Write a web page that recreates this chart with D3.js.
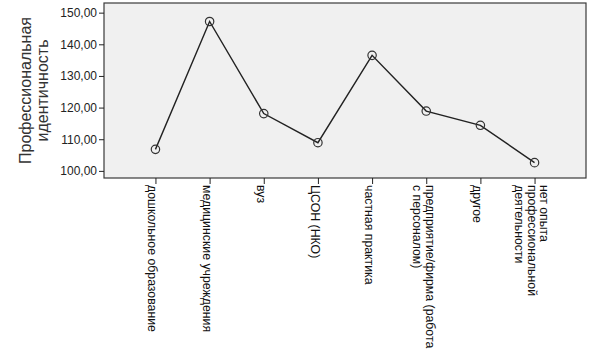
<!DOCTYPE html>
<html>
<head>
<meta charset="utf-8">
<script src="https://cdn.jsdelivr.net/npm/d3@7"></script>
<style>
  html, body { margin: 0; padding: 0; background: #fff; }
  svg { display: block; }
  text { font-family: Arial, "Liberation Sans", sans-serif; }
</style>
</head>
<body>
<svg id="chart" width="594" height="358"></svg>
<script>
const categories = [
  ["дошкольное образование"],
  ["медицинские учреждения"],
  ["вуз"],
  ["ЦСОН (НКО)"],
  ["частная практика"],
  ["предприятие/фирма (работа", "с персоналом)"],
  ["другое"],
  ["нет опыта", "профессиональной", "деятельности"]
];
const values = [106.8, 147.2, 118.1, 108.9, 136.5, 118.9, 114.4, 102.6];
const yTicks = [100, 110, 120, 130, 140, 150];
const yTitle = ["Профессиональная", "идентичность"];

const svg = d3.select("#chart");
const plot = { left: 104, top: 3, right: 586, bottom: 178 };

const x = d3.scalePoint()
  .domain(d3.range(categories.length))
  .range([plot.left, plot.right])
  .padding(0.95);

const y = d3.scaleLinear()
  .domain([97.75, 153.05])
  .range([plot.bottom, plot.top]);

// plot background
svg.append("rect")
  .attr("x", plot.left).attr("y", plot.top)
  .attr("width", plot.right - plot.left).attr("height", plot.bottom - plot.top)
  .attr("fill", "#f0f0f0")
  .attr("stroke", "#3a3a3a").attr("stroke-width", 1.2);

// Y axis
const yAxis = d3.axisLeft(y)
  .tickValues(yTicks)
  .tickSize(5)
  .tickPadding(2)
  .tickFormat(d => d3.format(".2f")(d).replace(".", ","));
const gy = svg.append("g").attr("transform", `translate(${plot.left},0)`).call(yAxis);
gy.select(".domain").remove();
gy.selectAll("line").attr("stroke", "#222");
gy.selectAll("text").attr("font-size", 12).attr("fill", "#222");

// X axis ticks
const xAxis = d3.axisBottom(x).tickSize(6).tickFormat("");
const gx = svg.append("g").attr("transform", `translate(0,${plot.bottom})`).call(xAxis);
gx.select(".domain").remove();
gx.selectAll("line").attr("stroke", "#222");

// X labels rotated
const lh = 12.6;
const lbl = svg.append("g");
categories.forEach((lines, i) => {
  const n = lines.length;
  const t = lbl.append("text")
    .attr("transform", `translate(${x(i)},${plot.bottom + 7}) rotate(90)`)
    .attr("font-size", 12.3)
    .attr("fill", "#111")
    .attr("text-anchor", "start");
  lines.forEach((s, j) => {
    const off = 3 + 4 + (j - (n - 1) / 2) * lh;
    t.append("tspan").attr("x", 0).attr("y", off).text(s);
  });
});

// Y title
const yt = svg.append("text")
  .attr("transform", `translate(0,${(plot.top + plot.bottom) / 2}) rotate(-90)`)
  .attr("font-size", 16)
  .attr("fill", "#333")
  .attr("text-anchor", "middle");
yTitle.forEach((s, j) => {
  yt.append("tspan").attr("x", 0).attr("y", 31 + j * 17).text(s);
});

// line
const line = d3.line().x((d, i) => x(i)).y(d => y(d));
svg.append("path")
  .datum(values)
  .attr("d", line)
  .attr("fill", "none")
  .attr("stroke", "#222")
  .attr("stroke-width", 1.4);

// markers
svg.append("g").selectAll("circle")
  .data(values)
  .join("circle")
  .attr("cx", (d, i) => x(i))
  .attr("cy", d => y(d))
  .attr("r", 4.2)
  .attr("fill", "none")
  .attr("stroke", "#333")
  .attr("stroke-width", 1.2);
</script>
</body>
</html>
